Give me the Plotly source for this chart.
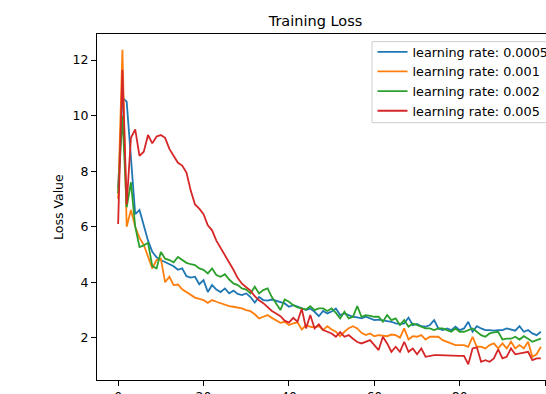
import plotly.graph_objects as go

epochs = list(range(100))

loss_lr_0005 = [
    7.4, 10.65, 10.5, 8.3, 6.45, 6.6, 6.0, 5.5, 5.1, 4.9,
    4.8, 4.73, 4.65, 4.58, 4.45, 4.5, 4.22, 4.17, 4.2, 3.93,
    4.08, 3.65, 3.9, 3.74, 3.65, 3.78, 3.6, 3.7, 3.58, 3.54,
    3.6, 3.47, 3.27, 3.47, 3.36, 3.34, 3.38, 3.33, 3.3, 3.24,
    3.12, 3.18, 3.13, 3.06, 3.0, 3.06, 2.94, 2.78, 2.97, 2.88,
    2.95, 3.06, 2.82, 2.88, 2.82, 2.76, 2.74, 2.7, 2.76, 2.7,
    2.64, 2.66, 2.64, 2.6, 2.58, 2.52, 2.5, 2.52, 2.73, 2.46,
    2.5, 2.42, 2.4, 2.46, 2.64, 2.34, 2.28, 2.34, 2.28, 2.4,
    2.28, 2.34, 2.58, 2.22, 2.42, 2.34, 2.28, 2.28, 2.26, 2.28,
    2.28, 2.34, 2.3, 2.26, 2.42, 2.22, 2.28, 2.16, 2.1, 2.22,
]

loss_lr_001 = [
    7.0, 12.37, 6.0, 6.6, 6.0, 5.6, 5.35, 4.9, 4.5, 4.8,
    4.85, 4.0, 4.2, 3.9, 3.92, 3.75, 3.65, 3.55, 3.45, 3.4,
    3.36, 3.26, 3.36, 3.3, 3.24, 3.18, 3.14, 3.12, 3.1, 3.06,
    3.0, 2.96, 2.85, 2.7, 2.76, 2.82, 2.72, 2.64, 2.54, 2.58,
    2.46, 2.52, 2.56, 2.3, 2.46, 2.4, 2.38, 2.42, 2.28, 2.42,
    2.3, 2.22, 2.06, 2.22, 2.35, 2.42, 2.34, 2.18, 2.1, 2.16,
    2.06, 2.1, 2.08, 2.06, 2.12, 2.1, 2.01, 2.34, 1.94, 2.06,
    2.04, 2.1, 1.94, 2.04, 2.04, 2.04, 1.92, 1.86, 1.8, 1.74,
    1.74, 1.74, 1.68, 2.04, 1.68, 1.68, 1.62, 1.74, 1.8, 1.62,
    1.8, 1.62, 1.86, 1.62, 1.74, 1.62, 1.86, 1.32, 1.41, 1.68,
]

loss_lr_002 = [
    7.2, 10.0, 6.7, 7.6, 6.0, 5.27, 5.33, 5.42, 4.58, 4.5,
    5.09, 4.85, 4.8, 4.72, 4.91, 4.8, 4.7, 4.65, 4.62, 4.5,
    4.45, 4.32, 4.5, 4.26, 4.2, 4.29, 4.1, 3.96, 3.9, 3.78,
    3.74, 3.6, 3.84, 3.6, 3.72, 3.78, 3.47, 3.24, 3.0, 3.38,
    3.3, 3.18, 3.1, 3.06, 3.02, 3.14, 3.0, 3.06, 3.06, 2.97,
    3.06, 2.9, 2.7, 2.94, 2.7, 2.76, 3.14, 2.76, 2.82, 2.79,
    2.76, 2.76, 2.58, 2.82, 2.64, 2.7, 2.46, 2.64, 2.4, 2.52,
    2.46, 2.42, 2.34, 2.34, 2.28, 2.34, 2.34, 2.28, 2.22, 2.34,
    2.22, 2.22, 2.28, 2.34, 2.22, 2.1, 2.04, 2.16, 2.2, 2.22,
    1.94, 1.97, 1.97, 2.04, 1.94, 2.06, 1.97, 1.86, 1.92, 1.97,
]

loss_lr_005 = [
    6.1, 11.65, 6.8, 9.2, 9.5, 8.55, 8.7, 9.3, 9.0, 9.25,
    9.3, 9.2, 8.8, 8.55, 8.3, 8.2, 7.95, 7.3, 6.8, 6.65,
    6.45, 6.05, 5.87, 5.5, 5.25, 5.0, 4.75, 4.45, 4.15, 3.95,
    3.82, 3.7, 3.5, 3.35, 3.25, 3.12, 2.97, 2.88, 2.78, 2.62,
    2.55, 2.72, 2.58, 3.05, 2.34, 2.82, 2.34, 2.49, 2.28, 2.22,
    2.16, 2.04, 2.21, 2.04, 2.1, 1.97, 1.85, 1.8, 1.86, 1.92,
    1.74, 1.56, 2.04, 1.8, 1.5, 1.68, 1.5, 1.86, 1.5, 1.62,
    1.41, 1.62, 1.32, 1.36, 1.38, 1.38, 1.37, 1.37, 1.36, 1.36,
    1.35, 1.35, 1.05, 1.62, 1.66, 1.14, 1.2, 1.14, 1.26, 1.59,
    1.26, 1.32, 1.62, 1.41, 1.44, 1.47, 1.5, 1.2, 1.26, 1.26,
]

series_names = [
    "learning rate: 0.0005",
    "learning rate: 0.001",
    "learning rate: 0.002",
    "learning rate: 0.005",
]
series_values = [loss_lr_0005, loss_lr_001, loss_lr_002, loss_lr_005]
colors = ["#1f77b4", "#ff7f0e", "#2ca02c", "#d62728"]

x_ticks = [0, 20, 40, 60, 80, 100]
y_ticks = [2, 4, 6, 8, 10, 12]

FONT = "DejaVu Sans"

# plot area in pixels
L, T, B = 97, 34, 380
W, H = 546 - L, B - T

fig = go.Figure()
for name, vals, col in zip(series_names, series_values, colors):
    fig.add_trace(go.Scatter(
        x=epochs, y=vals, mode="lines", name=name,
        line=dict(color=col, width=1.8),
    ))

# y-range padded 5% around the data like a default matplotlib autoscale
all_vals = [v for s in series_values for v in s]
ymin, ymax = min(all_vals), max(all_vals)
pad = 0.05 * (ymax - ymin)

# legend frame drawn as a shape so its padding stays tight
box_l, box_t, box_b, box_r = 372, 41.7, 122.7, 600
fig.add_shape(
    type="rect", xref="paper", yref="paper",
    x0=(box_l - L) / W, x1=(box_r - L) / W,
    y0=(B - box_b) / H, y1=(B - box_t) / H,
    fillcolor="rgba(255,255,255,0.8)",
    line=dict(color="#cccccc", width=1),
    layer="above",
)

fig.update_layout(
    width=546, height=394,
    margin=dict(l=L, r=0, t=T, b=394 - B, autoexpand=False),
    paper_bgcolor="white", plot_bgcolor="white",
    font=dict(family=FONT, size=12.5, color="black"),
    showlegend=True,
    title=dict(
        text="Training Loss", x=315.5 / 546, xanchor="center",
        y=1 - 20.5 / 394, yanchor="middle",
        font=dict(family=FONT, size=14.5, color="black"),
    ),
    legend=dict(
        x=(372.5 - L) / W, xanchor="left",
        y=(B - 37) / H, yanchor="top",
        bgcolor="rgba(0,0,0,0)",
        borderwidth=0,
        font=dict(family=FONT, size=12.8, color="black"),
    ),
    xaxis=dict(
        range=[-4.95, 100.2], tickvals=x_ticks,
        showgrid=False, zeroline=False,
        showline=True, linecolor="black", linewidth=1, mirror=True,
        ticks="outside", ticklen=5, tickwidth=1, tickcolor="black",
        tickfont=dict(family=FONT, size=12.5, color="black"),
    ),
    yaxis=dict(
        range=[ymin - pad, ymax + pad], tickvals=y_ticks,
        showgrid=False, zeroline=False,
        showline=True, linecolor="black", linewidth=1, mirror=False,
        ticks="outside", ticklen=5, tickwidth=1, tickcolor="black",
        tickfont=dict(family=FONT, size=12.5, color="black"),
    ),
    annotations=[dict(
        text="Loss Value", textangle=-90,
        xref="paper", yref="paper",
        x=(58 - L) / W, y=0.5, xanchor="center", yanchor="middle",
        showarrow=False,
        font=dict(family=FONT, size=12.5, color="black"),
    )],
)

fig.write_html("out.html")
